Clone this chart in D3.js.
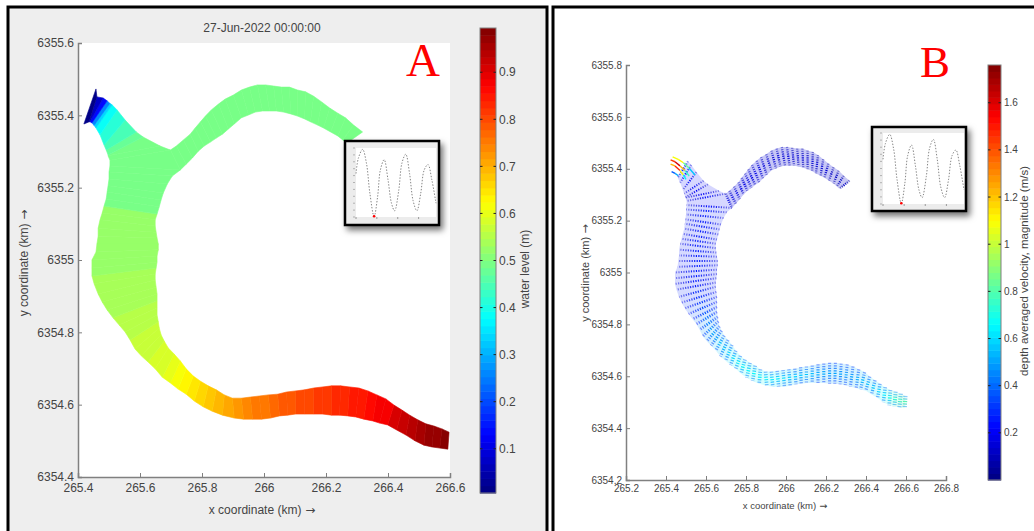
<!DOCTYPE html>
<html>
<head>
<meta charset="utf-8">
<title>Water level and velocity</title>
<script src="https://cdnjs.cloudflare.com/ajax/libs/d3/7.8.5/d3.min.js"></script>
<style>
  body { margin: 0; background: #fff; }
  svg { display: block; }
  text { font-family: "Liberation Sans", Arial, sans-serif; fill: #444; }
  .axis path, .axis line { stroke: #808080; }
  .axis path { stroke-width: 1.5; }
</style>
</head>
<body>
<script>
// main channel, downstream end first, then the stub at the top left (km)
var mainEastX = [266.597,266.574,266.548,266.522,266.496,266.470,266.445,266.419,266.393,266.364,266.335,266.306,266.276,266.247,266.218,266.189,266.160,266.131,266.102,266.073,266.044,266.014,265.985,265.956,265.927,265.898,265.872,265.846,265.820,265.795,265.772,265.749,265.730,265.710,265.691,265.678,265.668,265.662,265.659,265.655,265.655,265.655,265.655,265.652,265.649,265.649,265.652,265.655,265.655,265.659,265.659,265.655,265.652,265.649,265.649,265.655,265.662,265.668,265.675,265.688,265.704,265.730,265.698,265.665,265.610,265.588,265.552,265.526,265.510,265.503,265.494,265.481,265.461,265.458];
var mainEastY = [6354.524,6354.533,6354.541,6354.547,6354.558,6354.571,6354.585,6354.599,6354.616,6354.627,6354.638,6354.646,6354.649,6354.652,6354.652,6354.649,6354.646,6354.641,6354.638,6354.635,6354.629,6354.627,6354.624,6354.621,6354.618,6354.618,6354.627,6354.641,6354.652,6354.665,6354.679,6354.699,6354.721,6354.740,6354.757,6354.776,6354.793,6354.812,6354.829,6354.848,6354.867,6354.887,6354.906,6354.925,6354.945,6354.961,6354.978,6354.994,6355.011,6355.028,6355.044,6355.061,6355.077,6355.094,6355.111,6355.127,6355.147,6355.166,6355.185,6355.210,6355.232,6355.249,6355.304,6355.315,6355.340,6355.354,6355.387,6355.415,6355.429,6355.433,6355.440,6355.448,6355.451,6355.473];
var mainWestX = [266.593,266.567,266.542,266.516,266.487,266.458,266.428,266.399,266.373,266.351,266.322,266.296,266.270,266.244,266.218,266.189,266.160,266.131,266.102,266.076,266.050,266.021,265.992,265.963,265.934,265.904,265.866,265.833,265.804,265.775,265.749,265.723,265.698,265.672,265.649,265.626,265.604,265.584,265.568,265.552,265.533,265.513,265.494,265.478,265.465,265.452,265.445,265.445,265.445,265.458,265.461,265.465,265.465,265.471,265.478,265.484,265.491,265.494,265.497,265.500,265.500,265.503,265.503,265.497,265.497,265.491,265.484,265.471,265.458,265.452,265.445,265.439,265.436,265.419];
var mainWestY = [6354.477,6354.480,6354.483,6354.488,6354.500,6354.516,6354.530,6354.544,6354.549,6354.555,6354.560,6354.566,6354.569,6354.571,6354.571,6354.574,6354.574,6354.574,6354.574,6354.571,6354.569,6354.563,6354.560,6354.560,6354.560,6354.563,6354.571,6354.582,6354.594,6354.610,6354.629,6354.643,6354.660,6354.676,6354.699,6354.718,6354.735,6354.754,6354.779,6354.801,6354.820,6354.840,6354.862,6354.884,6354.906,6354.934,6354.956,6354.978,6355.000,6355.022,6355.044,6355.066,6355.088,6355.111,6355.130,6355.149,6355.169,6355.188,6355.205,6355.224,6355.243,6355.260,6355.276,6355.288,6355.290,6355.304,6355.318,6355.346,6355.365,6355.372,6355.379,6355.382,6355.382,6355.376];
var mainLevel = [0.99,0.98,0.97,0.955,0.94,0.925,0.91,0.89,0.875,0.865,0.855,0.85,0.84,0.83,0.82,0.815,0.81,0.80,0.79,0.785,0.775,0.765,0.75,0.74,0.73,0.715,0.70,0.685,0.665,0.645,0.625,0.615,0.60,0.59,0.58,0.575,0.57,0.565,0.56,0.555,0.55,0.535,0.535,0.535,0.535,0.535,0.52,0.52,0.52,0.52,0.52,0.52,0.52,0.52,0.52,0.49,0.49,0.49,0.49,0.49,0.49,0.49,0.49,0.49,0.47,0.44,0.42,0.385,0.33,0.25,0.14,0.07,0.01,0.01];
var mainSpeed = [0.82,0.78,0.75,0.70,0.65,0.61,0.58,0.56,0.55,0.53,0.52,0.51,0.50,0.51,0.52,0.53,0.54,0.55,0.56,0.57,0.58,0.60,0.62,0.64,0.65,0.67,0.68,0.68,0.68,0.67,0.66,0.63,0.60,0.57,0.55,0.52,0.50,0.47,0.45,0.42,0.38,0.35,0.32,0.30,0.28,0.27,0.26,0.26,0.25,0.25,0.25,0.25,0.25,0.26,0.26,0.27,0.27,0.27,0.27,0.26,0.25,0.24,0.22,0.20,0.20,0.22,0.24,0.26,0.28,0.29,0.30,0.29,0.28,0.22];

// upper arm, junction first
var armTopX = [265.698,265.717,265.740,265.762,265.778,265.795,265.811,265.830,265.853,265.875,265.901,265.927,265.953,265.979,266.005,266.031,266.056,266.082,266.108,266.134,266.160,266.186,266.212,266.238,266.263,266.289,266.318];
var armTopY = [6355.304,6355.315,6355.332,6355.348,6355.365,6355.382,6355.398,6355.415,6355.431,6355.445,6355.456,6355.470,6355.478,6355.484,6355.484,6355.481,6355.478,6355.478,6355.470,6355.465,6355.453,6355.437,6355.420,6355.406,6355.393,6355.373,6355.354];
var armBotX = [265.730,265.749,265.769,265.788,265.807,265.827,265.846,265.866,265.885,265.904,265.927,265.950,265.972,265.995,266.018,266.040,266.063,266.086,266.108,266.131,266.150,266.173,266.192,266.215,266.238,266.254,266.267];
var armBotY = [6355.249,6355.265,6355.282,6355.301,6355.315,6355.326,6355.337,6355.348,6355.362,6355.376,6355.393,6355.401,6355.409,6355.412,6355.412,6355.412,6355.409,6355.404,6355.398,6355.390,6355.382,6355.373,6355.365,6355.354,6355.343,6355.332,6355.323];
var armLevel = [0.49,0.49,0.49,0.49,0.49,0.49,0.49,0.49,0.49,0.49,0.49,0.49,0.49,0.49,0.49,0.49,0.49,0.49,0.49,0.49,0.49,0.49,0.49,0.49,0.49,0.49,0.49];
var armSpeed = [0.19,0.19,0.18,0.18,0.18,0.17,0.17,0.17,0.17,0.16,0.16,0.15,0.15,0.15,0.15,0.14,0.14,0.14,0.14,0.14,0.14,0.14,0.14,0.13,0.13,0.13,0.13];

// long fast arrows at the stub
var jetId = [0,0,0,0,0,1,1,1,1,1,2,2,2,2,2,3,3,3];
var jetX = [265.433,265.461,265.487,265.516,265.545,265.423,265.445,265.470,265.495,265.516,265.423,265.445,265.470,265.487,265.500,265.428,265.445,265.462];
var jetY = [6355.446,6355.436,6355.423,6355.402,6355.376,6355.434,6355.427,6355.411,6355.393,6355.372,6355.418,6355.411,6355.393,6355.376,6355.359,6355.389,6355.382,6355.373];
var jetSpeed = [0.9,1.25,1.0,0.7,0.45,1.2,1.7,1.5,0.95,0.55,0.85,1.6,1.35,0.8,0.5,0.3,0.45,0.55];

// tide curve in the small inset
var tideHour = [0,0.67,1.9,3.0,4.0,5.2,6.2,7.0,8.1,9.2,10.2,11.1,12.3,13.2,14.3,15.4,16.4,17.5,18.6,19.6,20.7,21.8,23];
var tideLevel = [0.63,0.85,0.98,0.78,0.34,0.01,0.29,0.68,0.83,0.54,0.2,0.09,0.39,0.78,0.91,0.63,0.24,0.09,0.34,0.68,0.76,0.54,0.2];
var tideNow = 5;

// tick labels
var xTicksA = [265.4,265.6,265.8,266,266.2,266.4,266.6];
var yTicksA = [6354.4,6354.6,6354.8,6355,6355.2,6355.4,6355.6];
var barTicksA = [0.1,0.2,0.3,0.4,0.5,0.6,0.7,0.8,0.9];
var xTicksB = [265.2,265.4,265.6,265.8,266,266.2,266.4,266.6,266.8];
var yTicksB = [6354.2,6354.4,6354.6,6354.8,6355,6355.2,6355.4,6355.6,6355.8];
var barTicksB = [0.2,0.4,0.6,0.8,1,1.2,1.4,1.6];

var svg = d3.select("body").append("svg")
    .attr("width", 1034)
    .attr("height", 531);

var defs = svg.append("defs");

defs.append("filter")
    .attr("id", "shadow")
    .attr("x", "-20%").attr("y", "-20%")
    .attr("width", "150%").attr("height", "150%")
  .append("feDropShadow")
    .attr("dx", 3).attr("dy", 4)
    .attr("stdDeviation", 3)
    .attr("flood-color", "#000")
    .attr("flood-opacity", 0.55);

// matlab jet, 64 steps like the colorbars
var jet = d3.scaleLinear()
    .domain([0, 0.125, 0.375, 0.625, 0.875, 1])
    .range(["#00007f", "#0000ff", "#00ffff", "#ffff00", "#ff0000", "#7f0000"])
    .clamp(true);

function stepped(t) {
  return jet((Math.floor(Math.min(t, 0.999) * 64) + 0.5) / 64);
}

var fmt = function(d) { return String(+d.toFixed(1)); };

function stations(ax, ay, bx, by, level, speed) {
  return ax.map(function(d, i) {
    return {ax: d, ay: ay[i], bx: bx[i], by: by[i], level: level[i], speed: speed[i]};
  });
}

var mainReach = stations(mainEastX, mainEastY, mainWestX, mainWestY, mainLevel, mainSpeed);
var armReach = stations(armTopX, armTopY, armBotX, armBotY, armLevel, armSpeed);

function drawAxes(g, x, y, xTicks, yTicks, fontSize, pad) {
  g.append("g")
      .attr("class", "axis")
      .attr("transform", "translate(0," + y.range()[0] + ")")
      .call(d3.axisBottom(x).tickValues(xTicks).tickFormat(fmt).tickSizeInner(-4).tickSizeOuter(-4).tickPadding(pad));
  g.append("g")
      .attr("class", "axis")
      .attr("transform", "translate(" + x.range()[0] + ",0)")
      .call(d3.axisLeft(y).tickValues(yTicks).tickFormat(fmt).tickSizeInner(-4).tickSizeOuter(-4).tickPadding(4));
  g.selectAll(".axis text")
      .style("font-size", fontSize + "px")
      .style("font-family", "'Liberation Sans'");
}

function drawBar(g, x0, x1, y, ticks, domainMax, fontSize) {
  var cells = d3.range(64);
  var top = domainMax, bottom = y.domain()[0];
  g.selectAll(null)
      .data(cells)
    .enter().append("rect")
      .attr("x", x0)
      .attr("width", x1 - x0)
      .attr("y", function(d) { return y(bottom + (d + 1) / 64 * (top - bottom)); })
      .attr("height", function(d) { return y(bottom + d / 64 * (top - bottom)) - y(bottom + (d + 1) / 64 * (top - bottom)) + 0.5; })
      .style("fill", function(d) { return jet((d + 0.5) / 64); });
  g.append("rect")
      .attr("x", x0).attr("y", y.range()[1])
      .attr("width", x1 - x0).attr("height", y.range()[0] - y.range()[1])
      .style("fill", "none").style("stroke", "#808080");
  ticks.forEach(function(t) {
    g.append("line").attr("x1", x0).attr("x2", x0 + 2.5).attr("y1", y(t)).attr("y2", y(t)).style("stroke", "#222");
    g.append("line").attr("x1", x1 - 2.5).attr("x2", x1).attr("y1", y(t)).attr("y2", y(t)).style("stroke", "#222");
  });
  g.selectAll(null)
      .data(ticks)
    .enter().append("text")
      .attr("x", x1 + 3)
      .attr("y", function(d) { return y(d); })
      .attr("dy", "0.35em")
      .style("font-size", fontSize + "px")
      .text(fmt);
}

// axis title; the arrow comes from DejaVu because the Liberation one is tiny
function axisTitle(g, px, py, size, label, angle, arrow) {
  var t = g.append("text")
      .attr("transform", "translate(" + px + "," + py + ") rotate(" + angle + ")")
      .style("text-anchor", "middle")
      .style("font-size", size + "px")
      .text(label);
  if (arrow) {
    t.append("tspan").style("font-family", "'DejaVu Sans'").text(" \u2192");
  }
}

function drawInset(g, fx, fy, fw, fh, px0, px1, py0, py1) {
  g.append("rect")
      .attr("x", fx).attr("y", fy).attr("width", fw).attr("height", fh)
      .style("fill", "#ececec").style("stroke", "#000").style("stroke-width", 2.5)
      .style("filter", "url(#shadow)");
  g.append("rect")
      .attr("x", px0).attr("y", py1).attr("width", px1 - px0).attr("height", py0 - py1)
      .style("fill", "#fff");

  var tx = d3.scaleLinear().domain([0, 23]).range([px0, px1]);
  var ty = d3.scaleLinear().domain([0, 1]).range([py0, py1]);

  d3.range(0, 24, 6).forEach(function(h) {
    g.append("line").attr("x1", tx(h)).attr("x2", tx(h)).attr("y1", py0).attr("y2", py0 + 2).style("stroke", "#777").style("stroke-width", 0.7);
  });
  d3.range(0, 1.01, 0.1).forEach(function(v) {
    g.append("line").attr("x1", px0 - 3).attr("x2", px0 - 1).attr("y1", ty(v)).attr("y2", ty(v)).style("stroke", "#999").style("stroke-width", 0.7);
  });

  var tideLine = d3.line()
      .x(function(d) { return tx(d); })
      .y(function(d, i) { return ty(tideLevel[i]); })
      .curve(d3.curveCatmullRom);

  g.append("path")
      .attr("d", tideLine(tideHour))
      .style("fill", "none")
      .style("stroke", "#777")
      .style("stroke-width", 0.9)
      .style("stroke-dasharray", "1.4 1.6");

  g.append("circle")
      .attr("cx", tx(tideHour[tideNow]))
      .attr("cy", ty(tideLevel[tideNow]))
      .attr("r", 1.3)
      .style("fill", "#f00");
}

function quad(x, y, s, t) {
  return d3.line()([[x(s.ax), y(s.ay)], [x(t.ax), y(t.ay)], [x(t.bx), y(t.by)], [x(s.bx), y(s.by)]]) + "Z";
}

/* ---------- panel A : water level ---------- */
var a = svg.append("g");

a.append("rect").attr("x", 8).attr("y", 7).attr("width", 539).attr("height", 530)
    .style("fill", "#eeeeee").style("stroke", "#000").style("stroke-width", 3);

var xA = d3.scaleLinear().domain([265.4, 266.6]).range([78, 450]);
var yA = d3.scaleLinear().domain([6354.4, 6355.6]).range([477, 43]);

a.append("rect").attr("x", 78).attr("y", 43).attr("width", 372).attr("height", 434).style("fill", "#fff");

[armReach, mainReach].forEach(function(reach) {
  a.selectAll(null)
      .data(reach.slice(0, -1))
    .enter().append("path")
      .attr("d", function(d, i) { return quad(xA, yA, d, reach[i + 1]); })
      .style("fill", function(d) { return stepped(d.level); })
      .style("stroke", function(d) { return stepped(d.level); })
      .style("stroke-width", 0.6);
});

drawAxes(a, xA, yA, xTicksA, yTicksA, 12, 6);

axisTitle(a, 262, 32, 12, "27-Jun-2022 00:00:00", 0, false);
axisTitle(a, 262, 514, 12, "x coordinate (km)", 0, true);
axisTitle(a, 28, 263, 12, "y coordinate (km)", -90, true);

var barA = d3.scaleLinear().domain([0.006, 0.994]).range([493, 28]);
drawBar(a, 480, 496, barA, barTicksA, 0.994, 12);
axisTitle(a, 529, 269, 12, "water level (m)", -90, false);

drawInset(a, 345, 141, 94, 84, 356, 436, 217, 148);

a.append("text").attr("x", 406).attr("y", 76)
    .style("font-family", "'Liberation Serif'").style("font-size", "47px").style("fill", "#f00").text("A");

/* ---------- panel B : velocity ---------- */
var b = svg.append("g");

b.append("rect").attr("x", 553).attr("y", 7).attr("width", 500).attr("height", 530)
    .style("fill", "#fff").style("stroke", "#000").style("stroke-width", 3);

var xB = d3.scaleLinear().domain([265.2, 266.8]).range([626, 946]);
var yB = d3.scaleLinear().domain([6354.2, 6355.8]).range([480, 65]);

var speedColor = function(v) { return stepped(v / 1.76); };

// pale wash under the dots, the original is so dense that its arrows blur together
function drawWash(reach, opacity) {
  b.selectAll(null)
      .data(reach.slice(0, -1))
    .enter().append("path")
      .attr("d", function(d, i) { return quad(xB, yB, d, reach[i + 1]); })
      .style("fill", function(d) { return speedColor(d.speed); })
      .style("fill-opacity", opacity);
}

// each cross section is a dotted line; its width stands for the arrow length along the flow
function drawTransects(reach, name, dash, extra) {
  var grads = defs.selectAll(null)
      .data(reach)
    .enter().append("linearGradient")
      .attr("id", function(d, i) { return name + i; })
      .attr("gradientUnits", "userSpaceOnUse")
      .attr("x1", function(d) { return xB(d.ax); })
      .attr("y1", function(d) { return yB(d.ay); })
      .attr("x2", function(d) { return xB(d.bx); })
      .attr("y2", function(d) { return yB(d.by); });
  [[0, 0.4, 0.55], [0.5, 1, 1], [1, 0.4, 0.55]].forEach(function(s) {
    grads.append("stop")
        .attr("offset", s[0])
        .attr("stop-color", function(d) { return speedColor(d.speed * s[2]); })
        .attr("stop-opacity", s[1]);
  });
  b.selectAll(null)
      .data(reach)
    .enter().append("path")
      .attr("d", function(d) { return d3.line()([[xB(d.ax), yB(d.ay)], [xB(d.bx), yB(d.by)]]); })
      .style("fill", "none")
      .style("stroke", function(d, i) { return "url(#" + name + i + ")"; })
      .style("stroke-width", function(d) { return 1 + d.speed * 4 + extra; })
      .style("stroke-dasharray", dash);
}

// the stub's last cross sections would only clutter the fast arrows drawn there
var mainDots = mainReach.filter(function(d) { return d.level > 0.3; });

drawWash(mainDots, 0.16);
drawWash(armReach, 0.22);
drawTransects(mainDots, "mainCut", "1.2 1.3", 0);
drawTransects(armReach, "armCut", "1.2 1", 0.7);

// fast arrows, one short piece per reading
jetX.forEach(function(d, i) {
  if (i === jetX.length - 1 || jetId[i] !== jetId[i + 1]) return;
  b.append("line")
      .attr("x1", xB(d)).attr("y1", yB(jetY[i]))
      .attr("x2", xB(jetX[i + 1])).attr("y2", yB(jetY[i + 1]))
      .style("stroke", speedColor((jetSpeed[i] + jetSpeed[i + 1]) / 2))
      .style("stroke-width", 1.4);
});

drawAxes(b, xB, yB, xTicksB, yTicksB, 10, 5);

axisTitle(b, 785, 509, 9.5, "x coordinate (km)", 0, true);
axisTitle(b, 589, 273, 11, "y coordinate (km)", -90, true);

var barB = d3.scaleLinear().domain([0, 1.76]).range([480, 65]);
drawBar(b, 988, 1001, barB, barTicksB, 1.76, 10);
axisTitle(b, 1028, 271, 11.5, "depth averaged velocity, magnitude (m/s)", -90, false);

drawInset(b, 872, 127, 94, 84, 883, 964, 204, 133);

b.append("text").attr("x", 920).attr("y", 77)
    .style("font-family", "'Liberation Serif'").style("font-size", "45px").style("fill", "#f00").text("B");
</script>
</body>
</html>
